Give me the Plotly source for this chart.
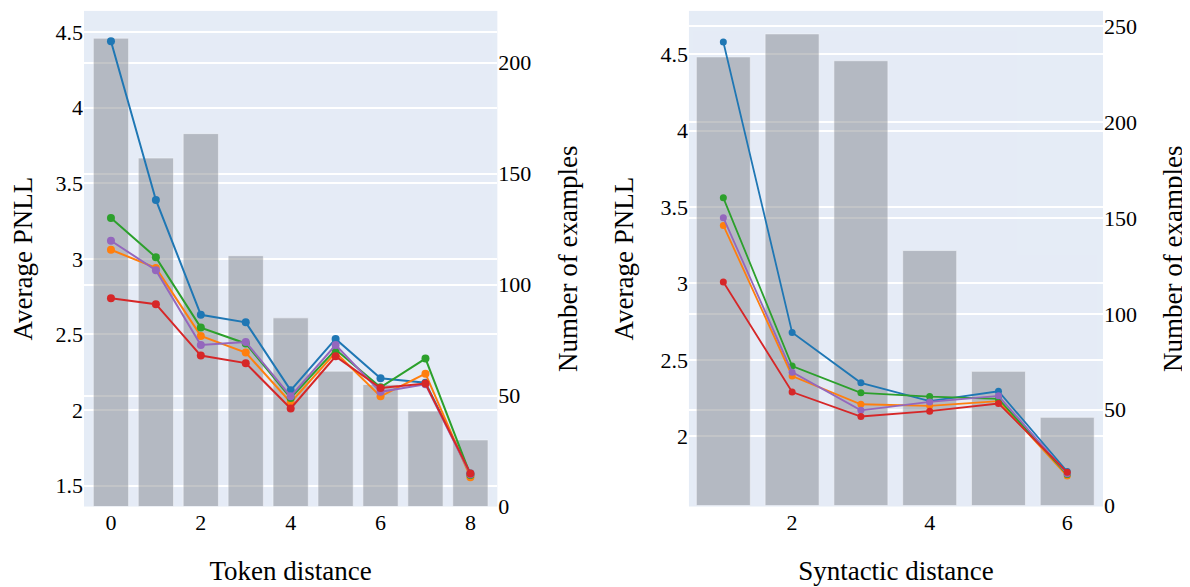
import plotly.graph_objects as go

# ---- data ----
token_dist = [0, 1, 2, 3, 4, 5, 6, 7, 8]
token_counts = [211, 157, 168, 113, 85, 61, 55, 43, 30]
token_series = {
    "blue":   [4.44, 3.39, 2.63, 2.58, 2.13, 2.47, 2.21, 2.18, 1.58],
    "orange": [3.06, 2.94, 2.49, 2.38, 2.05, 2.38, 2.09, 2.24, 1.555],
    "green":  [3.27, 3.01, 2.545, 2.44, 2.08, 2.40, 2.15, 2.34, 1.57],
    "purple": [3.12, 2.925, 2.43, 2.45, 2.09, 2.43, 2.12, 2.17, 1.575],
    "red":    [2.74, 2.70, 2.36, 2.31, 2.01, 2.355, 2.145, 2.175, 1.58],
}

syn_dist = [1, 2, 3, 4, 5, 6]
syn_counts = [234, 246, 232, 133, 70, 46]
syn_series = {
    "blue":   [4.58, 2.68, 2.35, 2.23, 2.295, 1.77],
    "orange": [3.38, 2.395, 2.21, 2.20, 2.23, 1.74],
    "green":  [3.56, 2.46, 2.285, 2.26, 2.245, 1.75],
    "purple": [3.43, 2.42, 2.17, 2.225, 2.265, 1.755],
    "red":    [3.01, 2.29, 2.13, 2.165, 2.215, 1.765],
}

colors = {"blue": "#1f77b4", "orange": "#ff7f0e", "green": "#2ca02c",
          "purple": "#9467bd", "red": "#d62728"}
order = ["blue", "orange", "green", "purple", "red"]

FONT = "'Liberation Serif', Tinos, 'Times New Roman', Times, 'DejaVu Serif', serif"

fig = go.Figure()

# left panel bars (base axis y, shown on right)
fig.add_trace(go.Bar(x=token_dist, y=token_counts, xaxis="x", yaxis="y",
                     marker=dict(color="rgb(120,124,132)",
                                 line=dict(color="rgba(255,255,255,0.6)", width=1)),
                     opacity=0.45, showlegend=False))
for k in order:
    fig.add_trace(go.Scatter(x=token_dist, y=token_series[k], xaxis="x", yaxis="y2",
                             mode="lines+markers", line=dict(color=colors[k], width=2),
                             marker=dict(size=8, color=colors[k]), showlegend=False))

# right panel bars
fig.add_trace(go.Bar(x=syn_dist, y=syn_counts, xaxis="x2", yaxis="y3",
                     marker=dict(color="rgb(120,124,132)",
                                 line=dict(color="rgba(255,255,255,0.6)", width=1)),
                     opacity=0.45, showlegend=False))
for k in order:
    fig.add_trace(go.Scatter(x=syn_dist, y=syn_series[k], xaxis="x2", yaxis="y4",
                             mode="lines+markers", line=dict(color=colors[k], width=1.8),
                             marker=dict(size=7, color=colors[k]), showlegend=False))

tickfont = dict(family=FONT, size=22, color="black")
titlefont = dict(family=FONT, size=27, color="black")
ydom = [0.139, 0.995]

common_y = dict(showgrid=True, gridcolor="white", gridwidth=1.5, zeroline=False,
                tickfont=tickfont, ticks="", showline=False, automargin=False)

fig.update_layout(
    width=1182, height=579,
    margin=dict(l=0, r=0, t=0, b=0),
    paper_bgcolor="white", plot_bgcolor="#E5ECF6",
    bargap=0.215,
    font=dict(family=FONT, color="black"),
    xaxis=dict(domain=[0.0643, 0.4140], range=[-0.6, 8.6], dtick=2, tick0=0,
               showgrid=False, zeroline=False, tickfont=tickfont, automargin=False,
               title=dict(text="Token distance", font=titlefont, standoff=27),
               anchor="y"),
    yaxis=dict(domain=ydom, range=[0, 223.3], side="right", anchor="x",
               tickvals=[0, 50, 100, 150, 200],
               title=dict(text="Number of examples", font=titlefont, standoff=27),
               **common_y),
    yaxis2=dict(range=[1.361, 4.641], overlaying="y", side="left", anchor="x",
                tickvals=[1.5, 2, 2.5, 3, 3.5, 4, 4.5],
                ticktext=["1.5", "2", "2.5", "3", "3.5", "4", "4.5"],
                title=dict(text="Average PNLL", font=titlefont, standoff=18),
                **common_y),
    xaxis2=dict(domain=[0.5761, 0.9264], range=[0.5, 6.52], dtick=2, tick0=0,
                showgrid=False, zeroline=False, tickfont=tickfont, automargin=False,
                title=dict(text="Syntactic distance", font=titlefont, standoff=27),
                anchor="y3"),
    yaxis3=dict(domain=ydom, range=[-0.5, 258], side="right", anchor="x2",
                tickvals=[0, 50, 100, 150, 200, 250],
                title=dict(text="Number of examples", font=titlefont, standoff=27),
                **common_y),
    yaxis4=dict(range=[1.541, 4.783], overlaying="y3", side="left", anchor="x2",
                tickvals=[2, 2.5, 3, 3.5, 4, 4.5],
                ticktext=["2", "2.5", "3", "3.5", "4", "4.5"],
                title=dict(text="Average PNLL", font=titlefont, standoff=18),
                **common_y),
)

fig.write_html("out.html")
